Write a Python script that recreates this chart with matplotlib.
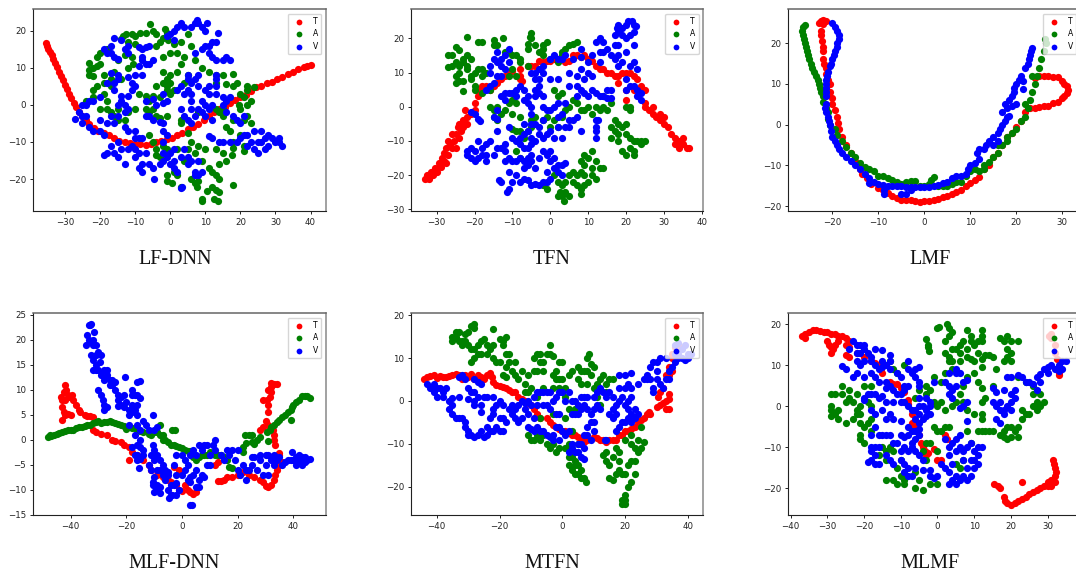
import matplotlib
matplotlib.use("Agg")
import matplotlib.pyplot as plt
import numpy as np

# values, one array per series
lf_t = [(-35.5,16.8),(-35.2,16),(-34.8,15.2),(-34.3,14.3),(-33.8,13.4),(-33.3,12.4),(-32.8,11.3),(-32.4,10.2),(-31.8,9),(-31.2,7.8),(-30.6,6.6),(-30,5.4),(-29.4,4.3),(-28.8,3),(-28.2,1.8),(-27.5,0.6),(-26.8,-0.6),(-26,-1.8),(-25,-3),(-24,-4.2),(-23,-5.2),(-21.8,-6.2),(-20.5,-7),(-19,-7.6),(-17.5,-8.2),(-16,-9),(-14.5,-9.6),(-13,-10),(-11.5,-10.3),(-10,-10.5),(-8.5,-10.6),(-7,-10.7),(-5.5,-10.5),(-4,-10),(-2.5,-9.7),(-1,-9.3),(0.5,-8.8),(2,-8),(3.5,-7.5),(5,-6.6),(6.5,-6),(8,-5.2),(9.5,-4.2),(11,-3),(12.5,-2),(14,-1.2),(15.5,-0.5),(17,0.5),(18.5,1.2),(20,2),(21.5,2.8),(23,3.8),(24.5,4.7),(26,5.2),(27.5,5.8),(29,6.3),(30.5,7),(32,7.6),(33.5,8.2),(35,8.9),(36.5,9.6),(38,10.2),(39,10.6),(40,10.8)]
lf_a = [(-12.5,19),(-13.5,18.5),(-11,19.2),(-10,18.5),(-8.5,19.5),(-7,19.3),(-5.7,21.7),(-5,20),(-4,19),(-1.5,20.5),(-1,19.5),(-2,18),(-3,17),(-4,16),(-0.5,17.5),(1,16.5),(2,14),(0,14),(-2,13),(4,13),(5,19),(6,16),(3,17),(-14,17.8),(-12,17),(-10,16.5),(-11,13),(-13,13.5),(-15,12),(-21,13),(-20,14),(-18,15),(-23,11.2),(-22,10),(-23,9.5),(-23,8),(-22,7.8),(-21,10.5),(-20,11),(-16,9),(-14,7),(-12,10),(-10.5,11),(-19,8),(-17,7),(-5,-10),(-4,-12),(-3,-14),(-4,-13.5),(-2,-11),(-1,-12),(1,-18),(-1,-19),(-1,-20.5),(0.5,-21),(2,-19),(3,-22),(6,-20),(7,-21),(8,-20.5),(7.5,-22),(9,-25.5),(9,-26),(10.5,-23.3),(12,-22),(13,-23),(14,-23.5),(12.5,-25.5),(13.5,-26),(12,-18),(13,-19),(14,-20),(11,-17),(14,-16),(16,-15),(18,-21.7),(17.5,-13.5),(18,-11.5),(15,-13),(13,-12),(10,-12),(8,-11),(6,-10),(5,-12),(7,-13),(9,-15),(5,-7.5),(18,8.3),(15,8),(16,5.5),(18,5),(19,6),(13,6),(20,3),(22,5),(22,4),(24,4.7),(21,2),(23,1),(22,0),(19.5,0),(20,-1),(22,-3),(21,-4),(23,-5),(18,-4),(16,-6),(17,-7),(20,-8),(18,-10),(21,-11),(21,-12.5),(15,-3),(13,-1),(14,-2),(15,-1),(-9,3),(-7,2.5),(-6,1),(-5,2.5),(-3,2),(-2,6),(-1,7),(0,8),(-1,5),(-2,9),(0,6),(1,4),(-1,4),(0,3),(-4,5),(-5,-1),(-4,-3),(-3,-3.5),(-1,-3),(-7,-1),(-6,-2),(3,-4),(8,-2),(-24,1),(-22,2),(-22,4),(-21,5),(-19,3),(-18,1),(-18,-1),(-17,-2),(-16,-3),(-15,-4),(-13,-4),(-12,-2),(-10,-1),(-15,-1),(-20,-1),(-17,5),(-19,6),(2,9),(3,11),(5,8),(7,12),(9,10),(11,9),(13,8),(4,6),(3,-5),(-6,-8),(2,-12),(4,-15)]
lf_v = [(-18,14),(-19,15),(-17,16),(-17,14),(-16,13),(-15,12.5),(-16,18),(-14,17.5),(-13,15),(-12,14),(-12,16),(-9,15.5),(-8,15),(-7,15.5),(-6,16),(-8,13),(-8,12),(-7,11),(-9,10.5),(-6,11),(-5,12),(-8,8),(-10,8),(-12,7.5),(-11,6),(-11,4),(-10,5),(-17,8.5),(-15,8),(-18,6),(-16,6),(-15,7),(-16,4),(-14,2.5),(-12,2.5),(-20,2),(-22,1),(-23,1),(-24,0),(-25,0),(-26,-2),(-27,-3.8),(-25,-3),(-24,-3),(-25,-5),(-23,-6),(-22,-7),(-20,-7),(-19,-8),(-20,-4),(-18,-5),(-16,-5),(-15,-3),(-17,-3),(-15,0),(-14,1),(-13,0),(-12,-1),(-13,-2),(-10,-7),(-12,-7),(-13,-6),(-10,-9),(-8,-9),(-9,-9),(-15,-10),(-17,-11),(-18,-13),(-19,-13.5),(-16,-13),(-15,-14),(-13,-15.8),(-14,-12),(-12,-12),(-11,-11),(-10,-12),(-9,-13),(-10,-14),(-8,-16),(-9,-17),(-8,-18),(-6,-16),(-7,-13),(-5,-17),(-4.5,-20),(-3,-16),(-2,-15),(-2,-13),(-1,-14),(0,-13),(1,-12),(1,-15),(0,-16),(1,-17),(2,-18),(3,-14),(4,-12),(5,-14),(5,-16),(6,-15),(3.5,-22),(3,-22.3),(7,-19),(8,-19),(7,-18),(9,-18),(8,-15),(-2,-7),(-1,-8),(-2,-10),(-5,-4),(-3,-4.5),(-4,0),(-6,-3),(-7,-3),(-7,1),(-5,1.5),(-2,0.5),(-1,1),(-2,3),(-2,-5),(3,-1),(4,-3),(5,-4),(6,-5),(7,-3),(9,-2),(6,-1),(8,-1),(9,1),(10,0),(11,-1),(12,0),(10,-3),(12,-4),(6,1),(2,4),(3,5),(4,3),(5,4),(6,3),(6,6),(5,8),(5,7),(7,7),(8,5),(8,8),(10,4),(11,3),(11,5),(13,3),(13,5),(13,7),(13,8),(7,14),(9,15),(11,14),(12,13),(13,12),(15,12),(16,13),(17,12),(10,16),(11,16),(12,17),(8,22),(7,22),(9,21),(7.5,23),(10.5,22),(6,21),(10,20),(13.5,19.5),(13,17),(-1,18.5),(0,19),(1,20),(2,21),(3,22),(4,21),(1,17.5),(15,2),(16,1),(17,2),(15,0),(16,-2),(18,-3),(19,-4),(20,-5),(21,-3),(15,-10),(14,-10),(12,-9),(11,-8.5),(17,-10),(19,-10),(20,-9),(22,-8),(21,-8),(23,-10),(24,-12),(25,-10),(26,-10),(27,-9),(28,-8),(29,-9),(30,-10),(31,-9),(31,-10),(32,-11),(28,-11),(27,-12),(25,-13),(24,-7),(26,-7),(22,-11)]

tfn_t = [(-33,-21),(-32.5,-20),(-32,-21),(-31.5,-19),(-31,-20),(-30.5,-18),(-30,-19),(-29.5,-16.5),(-29,-17.5),(-28.5,-15),(-28,-16),(-27.5,-16.5),(-28,-13.5),(-27.5,-12),(-27,-14),(-26.5,-11),(-26,-12),(-27,-10),(-26,-8),(-25.5,-10),(-25,-12),(-25,-8),(-24.5,-6),(-24,-9),(-24,-5),(-23.5,-7),(-23,-4),(-23,-6),(-22.5,-1),(-22,-3),(-22,-5),(-21,-2),(-20,-1),(-20,1),(-19,3),(-19,5),(-18,6),(-17,6),(-16,5),(-15,6),(-14,7),(-13,8),(-12,9),(-11,10),(-10,10.5),(-8,9),(-8,8),(-7.5,7.5),(-8,11),(-6,12),(-5,12),(-4,12),(-3,13.5),(-2,13),(-1,13.5),(0,13.5),(1,14),(2,14),(4,13),(5,13.5),(6,15),(7,15),(8,14.5),(9,15),(10,14),(11,13.5),(12,12),(13,11),(14,11),(15,10),(16,10),(17,9),(18,9),(19,10),(20,10),(21,10),(22,9),(23,8),(24,6),(25,5),(22,5),(20,5),(18,7),(20,2),(25,1),(25,0),(26,-1),(27,-2),(27,0),(28,-3),(29,-2),(29,-4),(30,-5),(30,-3),(31,-6),(32,-8),(33,-9),(33,-11),(34,-10),(35,-11),(35,-9),(36,-12),(36.5,-12),(34,-12)]
tfn_a = [(-22,20.5),(-19,19),(-18,19),(-25,17.5),(-24,16.5),(-26,15),(-27,15),(-23,14),(-22,15),(-21,14),(-25,13),(-24,12),(-23,13),(-22,12),(-26,12),(-27,11.5),(-24,10),(-25,9),(-22,11),(-20,10),(-19,11),(-21,9),(-18,11),(-17,10),(-18,9),(-25,7),(-24,7.5),(-23,7.5),(-23,4.7),(-21,8),(-20,6),(-20,5),(-18,4),(-16,5),(-15,19.5),(-15,18),(-14,18),(-12.5,20),(-12,16),(-11,16),(-10,15),(-9,15),(-8,14),(-6,17),(-6,18.5),(-5,20),(-5.5,20.3),(-5,21.5),(-4,18),(-3,16),(-2,17),(-2,18),(-1,19),(-2,15),(0,14),(-10,11),(-8,13),(-11,9),(-9,9),(-6,12),(3,16),(4,17),(5,18),(6,18.5),(7,19),(2,13),(3,15),(-16,0),(-15,-1),(-14,0),(-13,-2),(-15,-3),(-14,-4),(-12,-1),(-11,1),(-10,2),(-9,1),(-10,-2),(-8,-3),(-9,-7),(-10,-6.5),(-8,-7),(-7,-9),(-6,-7),(-5,-6),(-5,-4),(-4,-3),(-2,-4),(-1,-3),(1,-4),(0,-6),(2,-6),(3,-3),(4,-1),(5,0),(6,2),(7,1),(8,-1),(9,-1),(10,0),(11,-2),(12,0),(13,-1),(14,0),(15,-1),(16,1),(14,3),(17,-4),(18,-5),(19,-6),(20,-5),(21,-1),(21,0),(20,0),(16,-6),(17,-7),(18,-8),(16,-9),(18,-10),(20,-8),(21,-9),(22,-10),(23,-10),(24,-10),(24,-11),(25,-10),(21,-12),(22,-13),(19,-13),(20,-14),(22,-14),(3,4),(2,3),(1,5),(-9,-13),(-8,-15),(9,-14),(10,-15),(11,-13),(12,-16),(13,-18),(14,-18),(11,-18),(9,-17),(8,-19),(7,-20),(6,-19),(5,-20),(4,-22),(6,-22),(7,-23),(8,-24),(9,-23),(10,-22),(12,-21),(11,-20),(2,-22),(3,-23),(2.5,-25),(3,-26),(4,-25),(5,-26),(3.5,-27.5),(2,-26),(8,-25.5),(-1,-24),(-2,-23),(9,-20),(1,-20),(8,-16)]
tfn_v = [(-16,12),(-15,14),(-14,13),(-14,16),(-13,14),(-13,12),(-12,11),(-11,13),(-12,15),(-11,17),(-16,10),(-14,9),(-13,9),(-15,7),(-16,6),(-17,5),(-12,4),(-13,3),(-12,2),(-11,4),(-10,4),(-9,3),(-14,-1),(-15,-3),(-14,-3.5),(-21,-1.5),(-20,-2),(-19,-3.5),(-18.5,-4.2),(-14,-7),(-11,-6),(-22,-13),(-21,-12),(-22,-14),(-21,-15),(-20,-16),(-20,-13),(-19,-15),(-18,-12),(-17,-14),(-18,-14),(-17,-16),(-16,-10),(-17,-11),(-15,-14),(-14,-12),(-13,-12),(-12,-13),(-12,-11),(-11,-15),(-12,-16),(-10,-16),(-9,-16),(-8,-15),(-19,-10),(-10,-9),(-9,-10),(-8,-11),(-8,-9),(-7,-8),(-7,-5),(-6,-7),(-5,-9),(-4,-10),(-7,-12),(-6,-12),(-5,-11),(-5,-14),(-6,-15),(-7,-16),(-7,-18),(-6,-17),(-5,-16),(-4,-18),(-3,-15),(-2,-13),(-1,-14),(0,-13),(0,-16),(1,-15),(2,-17),(1,-18),(3,-17),(4,-16.5),(2,-19),(3,-20),(-1,-19),(0,-21),(-1,-22),(-2,-22),(-3,-23),(-4,-22.5),(-5,-23),(-6,-21.5),(-7,-21),(-8,-22),(-9,-20),(-10,-22),(-11,-24),(-11.5,-25),(-13,-22),(-13.5,-21.5),(-11,-19),(-3,-8),(-2,-9),(-1,-8),(0,-7),(1,-9),(3,-9),(2,-6),(-4,-5),(-3,-6),(-5,-5),(-2,-4),(-2,0),(-1,-1),(0,-1),(1,0),(2,1),(3,-2),(2,-3),(4,1),(4,-6),(5,-6),(6,-4),(7,-3),(5,-4),(8,-7),(12,-4),(12.5,-4),(12,-7),(12,-9),(12,-6),(-9,5),(-8,6),(-7,5),(-7,2),(-6,3),(-6,1),(-5,0),(-5,-2),(-4,3),(-4,5),(-3,4),(-3,6),(-2,3),(-4,8),(-3,8),(-5,10),(-4,10),(-3,11),(-2,10),(-2,12),(0,14),(1,15),(2,14),(3,14),(4,15),(0,8),(2,8),(5,10),(5,6),(7,6),(7,9),(8,11),(9,8),(10,10),(11,9),(7,3),(8,5),(9,4),(10,3),(11,5),(12,4),(13,3),(14,3),(15,5),(15,2.5),(16,2.5),(6,14),(8,14.5),(8,17),(10,13),(11,15),(13,13),(12,19),(13,20),(14,19),(13,16),(14,16),(15,17),(16,15),(17,14),(18,15),(17,18),(18,18),(17,21),(18,22),(17.5,23),(18,24),(19,23),(20,24),(20.5,25),(21.5,25),(22,24),(22.5,23.5),(22,22),(21,21),(19,21),(20,20),(22,18),(20,16),(19,13),(18,12),(21,12),(22,13),(23,11),(20,8),(21,6),(22,6),(23,5),(24,4),(24,2),(23,3),(20,5),(16,5)]

lmf_t = [(-22.5,25.5),(-22,25.8),(-21.5,25.5),(-23,25),(-22,24.8),(-22.5,23),(-22.5,22),(-22.3,20.5),(-22,19),(-22,18),(-22,16),(-21.8,15),(-21.5,14),(-21.3,12.5),(-21,11),(-20.5,10),(-20.5,8),(-20,6.5),(-20,5),(-19.5,3.5),(-19,2),(-18.8,0.5),(-18.5,-1),(-18,-3),(-17,-5),(-16,-7),(-15,-9),(-14,-11),(-13.5,-12),(-12.5,-13),(-11.5,-14.5),(-10,-15.5),(-9,-16),(-8,-16.8),(-7,-17.5),(-6,-18),(-5,-18.5),(-4,-18.5),(-3,-18.6),(-2,-18.8),(-1,-19),(0,-18.8),(1,-18.7),(2,-18.5),(3,-18.2),(4,-17.8),(5,-17.6),(6,-17),(7,-16.5),(8,-16),(9,-15),(10,-14.3),(11,-13.5),(12,-12.8),(13,-11),(14,-10),(15,-8),(16,-7),(17,-5),(18,-3),(19,-2),(20,-0.5),(21,1),(22,3),(23,4),(24,4.2),(25,4.3),(26,4.5),(27,4.7),(28,5.2),(29,5.5),(30,6.5),(30.5,7),(31,7.8),(31.3,8.5),(31,9.5),(30.5,10),(30,10.8),(29,11.6),(28,11.8),(27,11.9),(26,12),(25,11.9),(24,11.5)]
lmf_a = [(-26,24.5),(-26.5,24),(-26.6,23),(-26.3,22),(-26.2,21),(-26,20),(-25.8,19),(-25.5,18),(-25.3,17),(-25,16),(-24.7,15),(-24.5,14),(-24,13),(-23.5,12),(-23.2,11),(-23,10),(-22.8,9),(-22.5,8),(-22,7),(-22,5.5),(-21.5,4),(-21,3),(-21,1.5),(-20.5,0),(-19.5,-1),(-19,-2.5),(-18,-4),(-17,-5.5),(-16,-7),(-15,-8),(-14,-9.5),(-13,-10.5),(-12,-11),(-11,-11.5),(-10,-12.5),(-9,-12.7),(-8,-13),(-7,-13.5),(-6,-14),(-5,-14.5),(-4,-14),(-3,-13.8),(-2,-13.8),(-1,-15),(0,-15),(1,-14.5),(1.5,-13.5),(2,-12.8),(3,-15),(4,-15),(5,-15),(6,-14.5),(7,-14),(8,-14),(9,-12.5),(10,-11.5),(11,-11),(12,-11.5),(13,-11),(13,-10),(14,-9.2),(15,-8),(16,-7),(17,-5),(18,-4),(19,-2),(20,-1),(21,1),(22,2),(22.5,4),(23,6),(23.5,8),(24,10),(24.5,12),(25,14),(25.5,16),(26,18),(26.5,20),(26.3,21),(23.5,12),(22,5),(18,-3),(16,-5)]
lmf_v = [(-20,25),(-19.5,24),(-19,23),(-18.5,22),(-18.5,21),(-19,20),(-19,19),(-19.5,18),(-19.7,17),(-20,16),(-20.3,15),(-20.5,14.5),(-21,13),(-21.2,12),(-21.3,11),(-21.4,10),(-21.5,9),(-21.5,8),(-21.4,7),(-21.5,5),(-21.7,4),(-21.5,3),(-21,2),(-20.7,1),(-20.5,0),(-20.2,-1.5),(-20,-3),(-19.5,-4),(-19,-5),(-18.5,-6),(-18,-7),(-17,-8),(-16,-9),(-15,-10),(-14,-11),(-13,-12),(-12,-13),(-12,-14.3),(-11,-14),(-10,-14.5),(-9,-14.7),(-8,-15),(-8.7,-16),(-8.7,-17),(-7,-15),(-6,-15),(-5,-15),(-4,-15.2),(-3,-15.3),(-2,-15.2),(-3,-16),(-4,-17),(-5,-17),(-1,-15.3),(0,-15.3),(1,-15.2),(2,-15),(3,-14.8),(4,-14.3),(5,-14),(6,-13),(7,-12.5),(8,-12.5),(9,-12),(9.5,-11),(10,-10),(11,-9.5),(12,-8.5),(11.5,-7),(12,-6),(13,-6),(13.5,-5),(14,-4),(15,-5),(16,-4),(15,-3),(16,-2),(16.5,-1),(17,0),(17.5,1),(18,2),(18.5,2.2),(17,3),(18,4),(17.5,5),(18.5,6),(19,7),(19.5,8),(19.5,9),(20,10),(20.5,11),(21,12),(21.5,8.7),(21.5,10.8),(22,14),(22.5,15),(22.8,16),(23,17),(23.3,18),(23.5,18.8),(20,5),(19,4.5)]

mlfd_t = [(-43,8),(-42.5,9.5),(-42,11),(-41.5,10),(-41,9),(-43.5,8.5),(-42,8),(-40.5,8.5),(-39.5,9),(-39,8),(-38,7),(-37,6),(-36.5,5.5),(-35,5),(-34,4.8),(-33,4.7),(-32,4.6),(-43,6.5),(-42.5,5.5),(-42,5),(-43,4),(-41,5.2),(-40,5),(-32,2),(-31,1.5),(-29,1.2),(-27,1),(-25,0),(-24,-0.3),(-22,-0.5),(-21,-1),(-19,-1.5),(-18,-2.5),(-16,-3),(-14,-4),(-12,-5),(-11,-6),(-9,-7),(-7,-7.5),(-5,-8),(-4,-8.5),(-2,-9),(-1,-10),(0,-10.3),(1,-9),(2,-10),(3,-10.5),(4,-10.8),(5,-10.5),(-19,-4.1),(-3,-5.5),(-1,-6),(12,-5),(13,-4.5),(13,-8.3),(14,-8.3),(15,-8),(16,-7.5),(18,-7.5),(20,-7),(22,-6.5),(24,-7),(26,-7.5),(28,-8),(29,-8.5),(30,-9.3),(31,-9.5),(32,-9),(33,-8),(33.5,-7),(34,-6),(35,-5),(36,-4.5),(35,-3),(35,-2.6),(33.5,-1),(33,0),(33,1),(32.5,2),(31,3),(30,3.7),(29,2.5),(28,2),(31,5.5),(31,7),(31.5,8.5),(32,9.5),(32,10.5),(32,11.3),(33,11.2),(34,11.2),(30.5,8),(29,8),(31,10)]
mlfd_a = [(-48,0.5),(-47.5,1),(-47,0.7),(-46,1),(-45,1.2),(-44,1.4),(-43,1.6),(-42,1.8),(-41,2),(-40,2),(-39,2),(-38,2.3),(-37,2.5),(-36,2.5),(-35,2.7),(-34,3),(-33,3),(-32,3.3),(-31,3.5),(-30,3.7),(-29,3.4),(-28,3.6),(-27,3.5),(-26,3.7),(-25,3.6),(-24,3.4),(-23,3.2),(-22,3),(-21,2.7),(-20,2.2),(-19,2.5),(-18,2.3),(-16,2),(-15,1.8),(-14,1.5),(-12,1.2),(-11,1),(-10,1.5),(-9,1.5),(-8,3),(-8,1),(-7,1),(-7,0),(-6,0),(-5,-0.5),(-4,-1),(-3,-1),(-3.5,2),(-2.5,2),(-2,-1.2),(-1,-1.5),(0,-1.7),(1,-2),(2,-2.2),(3,-2.2),(4,-3.5),(5,-4),(6,-3.5),(7,-3),(8,-3),(9,-3),(10,-2.5),(11,-2.8),(12,-3),(13,-3),(14,-3),(15,-3.5),(16,-4),(17,-5.5),(18,-5.7),(22,-1.5),(22,-2.5),(23,-0.7),(22.5,1),(24,1),(25,1),(25,-0.5),(26,-0.8),(27,0),(28,0.5),(31,-0.2),(30.5,1.5),(31.5,2),(32,2.5),(33,3),(34,3.5),(35,4),(36,4.5),(37,5),(38,5.5),(39,6),(39.5,6.5),(40,7),(41,7.5),(42,8),(43,8.7),(44,8.8),(45,8.7),(46,8.3),(39,4)]
mlfd_v = [(-33.5,23),(-33,23),(-32.5,23.2),(-34,21),(-33.5,20),(-34.5,19),(-33,19.5),(-32,20),(-31.5,21.5),(-32,19),(-31,19),(-32.5,17),(-31,17),(-30,17.5),(-29,17),(-32,16),(-31,15),(-29.5,15.5),(-32,14),(-31,14),(-30,14),(-28,14),(-27,14),(-29,13),(-27,13),(-26,12),(-28,12),(-25,12),(-24,11.5),(-26,11),(-25,11),(-20.5,12.5),(-15,11.7),(-16,11.6),(-18,10),(-18,9),(-24,10),(-23,9),(-22,8.5),(-21,9),(-23,8),(-22,7),(-20,7.5),(-17,9),(-16,9),(-15,8.3),(-18,7),(-16,7),(-23,6.7),(-21,6.5),(-19,6),(-18,5.5),(-17,6),(-16,5),(-19,5),(-30,10),(-29,9),(-28.5,8),(-28,7),(-28,6),(-27,6.5),(-10.5,5),(-19,3),(-16,3),(-14,3.7),(-13,3),(-12,2),(-10,2),(-9,2.5),(-15,2),(-17,1),(-15,0),(-16,-1),(-15,-1.5),(-18,-1.5),(-17,-3),(-16,-3),(-14,-2),(-14,-3),(-16,-4),(-15,-3.8),(-10.5,-1),(-10,-2),(-9,-3),(-11,-3),(-12,-5),(-10,-4),(-8,-4),(-7,-5),(-15.5,-5.7),(-11,-6),(-9,-6),(-8,-6),(-6,-6),(-5,-6.5),(-7,-7),(-5,-7),(-6,-8),(-10,-7.5),(-10.5,-8.5),(-10.5,-9),(-9,-9),(-9.5,-10),(-10,-10.5),(-8,-9.5),(-8,-10.7),(-5,-10),(-4,-9),(-3,-9),(-2,-8.7),(-1,-10),(-2,-11),(-4,-11),(-4.5,-11.7),(-3.5,-11),(3,-13),(3.5,-13),(-2,-3),(0,-3),(1,-4),(2,-5),(3,-3),(-3,-5),(-2,-7),(0,-7),(1,-6),(2,-8),(3,-7.5),(4,-7),(3,-8.5),(5,-9.5),(6,-9.5),(5,-6),(6,-8),(7,-7),(8,-7.5),(4,-2),(5,-3),(6,-1),(7,-2),(8,-1),(9,-1),(10,-3),(11,-1),(12,0),(12,-2),(10,-5),(9,-5),(14,-3),(15,-4),(16,-2),(17,-3),(18,-2),(19,-4),(20,-2),(20,-6),(21,-7),(22,-5),(23,-6),(23,-8),(24,-6),(25,-3.5),(25,-5),(26,-3.5),(27,-6),(28,-3),(28,-4),(29,-7),(30,-3),(30,-5),(31,-7),(31,-3),(32,-4),(33,-3),(33,-5),(34,-4),(35,-3.5),(36,-5),(37,-4.5),(38,-4),(39,-4),(39.5,-2.5),(40,-4),(41,-3.5),(42,-4),(42,-3),(43,-3.5),(44,-3.5),(44,-4.5),(45,-4),(46,-3.8),(41,-5),(43,-5)]

mtfn_t = [(-44,5.2),(-43,5.5),(-42,5.7),(-41,6),(-40,5.3),(-39,5.8),(-38,5.5),(-37,5.5),(-36,5.7),(-35,6),(-34,6.3),(-33,6),(-32,5),(-31,6),(-30,5.5),(-29,6.2),(-28,5),(-27,6),(-26,5.5),(-25,5),(-24,6),(-23,6.5),(-22.5,5.5),(-22,4.5),(-21,3.8),(-20,3.5),(-19,3.2),(-18,3),(-17,2.5),(-16,2),(-15,2),(-14,1),(-13,0.5),(-12,0),(-11,-0.5),(-10,-1),(-9,-2),(-8,-3),(-7,-4),(-5,-4),(-4,-5),(-3,-5.5),(-2,-6),(-1,-6.5),(0,-7),(1,-7),(2,-7.5),(3,-8),(4,-8),(5,-8.5),(6,-9),(7,-9.5),(8,-9),(10,-8.5),(11,-8.7),(12,-9),(13,-9),(14,-9.5),(15,-9),(16,-9),(17,-9),(18,-8),(19,-8),(20,-7),(21,-7),(22,-6.5),(23,-6),(24,-5),(25,-4.5),(26,-4),(27,-3),(28,-3),(27.5,-2.5),(30,-1.5),(31,-1),(32,-0.5),(33,0),(34,0.5),(34,1.5),(33,-1.8),(34,-1.8),(30.5,0.8),(31,2),(32,3),(33,6),(34,6),(35,7),(34,8),(35,10),(35,11),(36,12.5),(37,13)]
mtfn_a = [(-35,14),(-35,15),(-34,15),(-34,16),(-33,14),(-33,16),(-32,14),(-32,13),(-31,14),(-31,15.5),(-30,16),(-30,13),(-29,17.5),(-28,18),(-28,17),(-29,12),(-28,12),(-27,13),(-27,11),(-28,10),(-29,9),(-26,11),(-26,14),(-25,14.5),(-24,13),(-24,11),(-23,12),(-22,10),(-21,9),(-22,13),(-22,16.7),(-20,14.5),(-19,14),(-18,15),(-19,13),(-18,11),(-17,11),(-17,9),(-18,8),(-20,9),(-19,6),(-18,5.5),(-16,7),(-15,9),(-15,6),(-14,5),(-13,7),(-12,4),(-12,2),(-11,2),(-10,3),(-11,6),(-9,7),(-8,7),(-9,10),(-8,11),(-7,11),(-7,9),(-6,9),(-5,11),(-4,13),(-6,7),(-4,11),(-3,10.5),(-3,6),(-2,7),(-1,9),(0,9),(-2,5),(-1,5),(0,5),(1,3),(2,6),(3,7),(-3,3),(-1,3),(0,2),(1,1),(-6,3),(-8,1),(5,8),(6,7),(7,7),(8,7),(9,6),(10,8),(9,8.5),(8,10),(8.5,11),(5,5),(6,4),(8,4),(10,3),(11,4),(12,5),(13,6),(14,4),(15,5),(16,5),(14,2),(11,1),(12,-1),(-11,-8),(-10,-9),(-9,-9),(-8,-8),(-7,-9),(-6,-8),(-5,-10),(-4,-11),(-3,-10),(-2,-12),(-1,-11),(1,-11),(2,-10),(2,-13),(3,-13),(4,-14),(2,-15),(3,-16),(4,-17),(4,-15),(5,-15),(6,-18),(7,-18),(7.5,-19),(5,-17),(6,-16),(13,-12.5),(14,-12),(14,-14),(15,-15),(15,-18),(16,-18.5),(17,-17),(16,-13),(17,-11),(18,-12),(18,-14),(18,-16),(19,-17),(20,-17),(21,-15),(22,-14),(23,-14),(23,-17),(22,-19),(21,-20),(20,-22),(19,-23),(19,-24),(20,-24),(20,-23),(22,-10),(23,-11),(24,-9),(25,-11),(26,-9.5),(24,-12),(25,-6),(20,-9),(22,-8),(5,-10),(3,-7),(4,-2),(1,-4),(2,-2),(-3,-3),(-7,-4)]
mtfn_v = [(-43,4),(-42,3),(-41,4),(-40,3),(-41,2),(-39,3),(-38,2),(-40,1),(-38,1),(-37,3),(-36,0),(-35,-1),(-36,-2),(-35,-3),(-34,-4),(-33,-4),(-32,-4),(-31,-5),(-31,-6),(-30,-7),(-30,-8),(-29,-8),(-28,-8.5),(-27,-8),(-26,-7),(-25,-8.5),(-24,-8),(-24,-6),(-23,-7),(-22,-7),(-21,-6),(-20,-7),(-19,-7),(-18,-5),(-19,-4),(-20,-4),(-22,-3),(-23,-4),(-22,-2),(-21,-1),(-22,1),(-20,0),(-19,-1),(-17,-2),(-16,-3),(-15,-4),(-14,-5),(-13,-4),(-16,-1),(-15,-2),(-14,-1),(-13,0),(-12,-2),(-12,-0.5),(-11,-3),(-9,-4),(-11,0),(-24,1),(-25,1),(-26,-2.5),(-26,-1),(-27,1),(-28,0),(-28,-1),(-29,2),(-28,2),(-30,3),(-33,5.5),(-32,6),(-31,5),(-28,5),(-27,4.5),(-26,4),(-33,1),(-35,0.7),(-30,0.5),(-10,-1),(-9,1),(-8,2),(-7,2),(-6,2),(-5,2),(-4,2),(-8,-1),(-6,-1),(-5,-1),(-4,-2),(-3,0),(-2,-3),(-1,-3),(-2,1),(-1,2),(0,2),(2,2),(1,0),(3,0),(4,0),(5,-1),(3,-3),(4,-3),(5,-3),(6,-2),(7,-1),(6,1),(7,1),(8,-2),(9,-3),(10,-2),(11,-1),(12,-2),(8,1),(10,1),(11,2),(12,3),(13,2),(14,1),(15,2),(16,1),(16,-2),(17,-1),(15,-3),(16,-4),(17,-3),(18,0),(19,1),(20,-1),(21,0),(22,1),(18,3),(20,3),(21,4),(22,3),(18,6),(20,6),(22,6.5),(24,4),(21,-2),(22,-3),(23,-2),(24,-3),(21,-4),(22,-5),(23,-4),(20,-5),(19,-5),(18,-6),(17,-7),(-11,-6),(-10,-6.5),(-9,-7),(-8,-6),(-7,-7),(-6,-7),(-5,-8),(-4,-8.5),(-3,-8),(-3,-9),(-2,-6),(-1,-6),(0,-7),(1,-8),(2,-7),(-1,-9),(3,-11),(2,-12),(4,-12),(3,-10),(5,-10),(6,-10),(5,-12),(6,-13),(7,-13.5),(7,-11),(7,-8),(8,-8),(9,-9),(9,-5),(10,-7),(8,-6),(10,-5),(14,-9),(13.5,-9),(28,8),(29,9),(30,9),(31,10),(33,10),(27,6),(26,5),(27,5),(28,5),(29,3),(30,5),(31,4),(29,2),(32,3),(33,5),(34,7),(34,5),(30,7),(35,8),(36,9),(36,11),(37,10),(38,10),(38,12),(39,13),(37,13.5),(36,13),(40,11),(40,10),(39,9.5),(41,11),(37,11)]

mlmf_t = [(-37,17),(-36,17.5),(-36,16.5),(-35,18),(-34,18.5),(-33,18.5),(-32,18.2),(-31,18),(-30,18),(-29,17.5),(-28,17.5),(-27,17),(-26,17),(-25,16.5),(-24,16),(-30,16),(-29.5,15),(-29,14.5),(-28.5,14),(-29,13),(-28,15),(-27,16),(-25,15),(-24,14.5),(-25,12.5),(-24,12),(-22,13),(-20,12),(-18,11),(-17,10.5),(-16,10),(-15.5,9),(-15,8),(-13,6),(-12,5.5),(-11,5.5),(-10,4.5),(-9,3.5),(-8,1.5),(-8,0.5),(-7,-2),(-7,-4),(-6,-5),(-5,-7),(-4.5,-9),(-4,-10),(-3.5,-11),(-3,-12),(-2.5,-11.5),(-1,-10.5),(0,-13),(1,-13),(2,-7),(2.5,-8),(15.5,-19),(16.5,-19.5),(17,-20),(18,-22),(18.3,-23),(19,-23.5),(20,-24),(21,-23.5),(22,-23),(23,-22.5),(24,-22),(25,-21.5),(26,-21),(27,-20.5),(28,-20),(29,-19.5),(30,-19.5),(31,-19.5),(32,-18.5),(32,-17),(32.2,-16),(32,-15),(31.7,-14),(31.5,-13),(23,-18.4),(30,-18.5),(31,-18),(31,17.5),(30.5,17),(31,16.5),(32,15),(32,13),(32.5,11.5),(33,9),(33,8),(33,7.5)]
mlmf_a = [(0,19),(0.5,19.2),(2.5,20),(3,19),(4,18),(3,17),(2,16),(-3,16.3),(-2.5,15),(-2.5,14.5),(-2.3,13.5),(2,13),(3,12),(3,11),(4,11),(4,14),(5,14),(6,15),(7,16),(6,13),(6,11),(8,14),(8,12),(8,18.5),(9,17),(9,16),(10,15),(11,16),(12,17),(12,18.5),(12,16),(11,13),(9,11.5),(10,11),(12,11.5),(13,12.5),(14,12.5),(15,12),(12,9.5),(16,9),(17,16.5),(18,16),(19,17),(20,16),(22,16),(19,14),(20,13),(19,12),(18,11),(20,11),(15,5),(11,6),(12,4.5),(10,8),(8,7),(7,5),(6,3),(4,9),(2,8),(1,6),(-1,7),(-2,4),(-3,5),(-3,3),(-1,1),(1,1),(0,0),(2,-1),(4,0),(5,1),(7,1),(8,-1),(10,-2),(13,2),(12,1),(12,-2),(12,-3),(12,-6),(13,-6),(14,-6),(15,-6),(11,-6),(17,-7),(18,-6),(19,-8),(18,-7.5),(19,-5),(20,-5),(21,-6),(22,-5),(20,-7.5),(22,-7.5),(23,-3),(23,-1),(25,-2),(24,-2),(26,0),(27,1),(26,3),(27,-1),(29,1),(28,0),(28,3),(26,5),(24,6),(22,7),(-26,5),(-24,4),(-26,3),(-28,3),(-29,3),(-25,1),(-24,2),(-22,3),(-23,1),(-21,0),(-19,1),(-20,5),(-18,5),(-18,0),(-22,-1),(-21,-2),(-29,-1),(-29,0),(-27,-1),(-28,-2),(-27,-3),(-29,-2.5),(-25,-4),(-23,-3),(-22,-2),(-21,-4),(-19,-4),(-18,-3),(-20,-5),(-18,-6),(-21,-7),(-21,-8),(-20,-9),(-15,-10),(-14,-11),(-13,-10),(-16,-12),(-14,-13),(-12,-11),(-10,-13),(-11,-15),(-10,-17),(-14,-18),(-12,-18),(-11,-19),(-9,-18),(-9,-19),(-6,-20),(-5,-18),(-4,-20.5),(-2,-19),(0,-19),(-6,-16),(-4,-11),(-3,-9),(-2,-9),(-1,-5),(0,-6),(1,-6),(2,-5),(3,-5),(-3,-13),(0,-11),(5,-14),(6,-15),(7,-13),(9,-9),(8,-6),(-6,2),(-5,4),(-13,11),(-12,9),(-9,10),(-11,8)]
mlmf_v = [(-23,16),(-22,15),(-21,15),(-20,15),(-24,14),(-22,13),(-21,13),(-20,14),(-19,13),(-17,14),(-15,13.7),(-13,12.5),(-18,12),(-22,11),(-21,10),(-20,11),(-18,11),(-17,10),(-15,11),(-13,11),(-14,10),(-15,9.5),(-16,9),(-13,9),(-8,11),(-26,9.7),(-25,9),(-23,7),(-22,8),(-20,7),(-18,8),(-17,7),(-16,6),(-14,6),(-13,5),(-14,4.5),(-12,4),(-11,8),(-10,7),(-8,9),(-7,8),(-6,9),(-5,9.5),(-6,7),(-5,6),(-5,5),(-8,5),(-9,5),(-11,3),(-10,3),(-9,4),(-19,3),(-18,3),(-17,3),(-16,2),(-15,2.5),(-20,2),(-20,1.5),(-14,1),(-12,1),(-10,1),(-9,1),(-8,0),(-7,-1),(-6,-1),(-5,2),(-3,2),(-2,1),(-5,0),(-4,0),(-3,-1),(-2,-2),(-3,-2.5),(-5,-2),(-6,-3),(-5,-4),(-4,-3),(-18,-1),(-17,-2),(-15,-1),(-13,-2),(-12,-3),(-14,-3),(-10,-3.5),(-17,-5),(-8,-5),(-7,-6),(-6,-6),(-5,-5.5),(-18,-7),(-16,-7),(-15,-7),(-14,-7),(-13,-7),(-12,-9),(-11,-9),(-10,-7),(-9,-7.5),(-8,-7),(-7,-9),(-6,-8),(-5,-7),(-18,-10),(-17,-10),(-16,-10),(-18,-11),(-17,-12),(-19,-13.5),(-18,-13),(-17,-14),(-16,-14),(-14,-12),(-13,-13),(-12,-14),(-10,-11),(-9,-10),(-8,-11),(-7,-10),(-6,-11),(-5,-12),(-4,-13),(-10,-13),(-9,-14),(-8,-15),(-9,-16),(-8,-17),(-7,-17),(-6,-15),(-4,-15.5),(-2,-15.5),(-2,-17),(-1,-17.5),(0,-17),(1,-14),(2,-15),(3,-16),(3,-19),(4,-18),(5,-17),(5,-19),(6,-18),(7,-17),(8,-18),(9,-17),(10,-15),(11,-14),(11,-12),(10,-13),(8,-15),(9,-13),(7,-13),(7,-11),(8,-10),(9,-9),(10,-11),(11,-10),(12,-10),(3,-10),(4,-9),(5,-8),(6,-7),(6,-10),(5,-11),(3,-12),(4,-14),(2,-8),(2,6),(3,8),(5,9),(5,8),(6,8),(7,6),(3,5),(4,4),(4,2),(3,3),(5,5),(8,6.5),(6,-0.5),(7,0),(8,1),(8,-3.5),(-1,6),(-2,0),(15,4.5),(16,3.5),(18,4),(20,3),(21,4),(15,1),(16,0),(17,1),(18,-1),(19,0),(20,1),(21,2),(17,-1),(16,-3),(17,-4),(18,-2),(20,-1),(19,7),(20,7),(22,7.5),(23,7),(24,6),(25,6),(26,5.5),(27,7),(28,7.8),(28,6),(29,9),(30,8),(30,9.5),(31,10),(32,9),(33,10),(34,9),(35,11),(34,11),(33,8.5),(27,4)]

panel_names = ["LF-DNN", "TFN", "LMF", "MLF-DNN", "MTFN", "MLMF"]
series_names = ["T", "A", "V"]
series_colors = ["red", "green", "blue"]


def make_panel(fig, box, data, xlim, ylim, xticks, yticks):
    # box is left, top, right, bottom in pixels of the reference
    W, H = 1076.0, 574.0
    ax = fig.add_axes([box[0]/W, 1-box[3]/H, (box[2]-box[0])/W, (box[3]-box[1])/H])
    for pts, name, col in zip(data, series_names, series_colors):
        pts = np.array(pts)
        ax.scatter(pts[:,0], pts[:,1], s=27, c=col, linewidths=0, label=name)
    ax.set_xlim(xlim)
    ax.set_ylim(ylim)
    ax.set_xticks(xticks)
    ax.set_yticks(yticks)
    ax.tick_params(labelsize=6.2, length=2.5, width=0.7, pad=2.5, colors="#222222")
    for s in ax.spines.values():
        s.set_linewidth(0.8)
        s.set_color("#222222")
    ax.spines["top"].set_color("#666666")
    ax.spines["right"].set_color("#888888")
    ax.spines["top"].set_linewidth(1.1)
    ax.spines["right"].set_linewidth(1.1)
    ax.legend(loc="upper right", fontsize=5.5, borderaxespad=0.6, labelspacing=0.5,
              handletextpad=0.9, markerscale=0.8)
    return ax


fig = plt.figure(figsize=(10.76, 5.74), dpi=100)

make_panel(fig, (33, 9, 326, 211), [lf_t, lf_a, lf_v], (-39.1, 44.4), (-28.6, 25.85),
           range(-30, 41, 10), range(-20, 21, 10))
make_panel(fig, (411, 9, 703.3, 211), [tfn_t, tfn_a, tfn_v], (-36.8, 40.4), (-30.5, 28.6),
           range(-30, 41, 10), range(-30, 21, 10))
make_panel(fig, (788.3, 9, 1081, 211), [lmf_t, lmf_a, lmf_v], (-29.6, 34.1), (-21.2, 28.4),
           range(-20, 31, 10), range(-20, 21, 10))
make_panel(fig, (33, 313, 326, 515), [mlfd_t, mlfd_a, mlfd_v], (-53.5, 51.7), (-15.1, 25.4),
           range(-40, 41, 20), range(-15, 26, 5))
make_panel(fig, (411, 313, 703.3, 515), [mtfn_t, mtfn_a, mtfn_v], (-48.2, 44.9), (-26.6, 20.5),
           range(-40, 41, 20), range(-20, 21, 10))
make_panel(fig, (788.3, 313, 1081, 515), [mlmf_t, mlmf_a, mlmf_v], (-40.65, 39.1), (-26.5, 22.7),
           range(-40, 31, 10), range(-20, 21, 10))

title_x = [175, 552, 930, 174, 552, 930]
title_y = [259, 259, 259, 563, 563, 563]
for name, tx, ty in zip(panel_names, title_x, title_y):
    fig.text(tx/1076.0, 1-ty/574.0, name, family="Liberation Serif", fontsize=14.5,
             ha="center", va="center", color="#111111")

fig.savefig("out.png", dpi=100)
